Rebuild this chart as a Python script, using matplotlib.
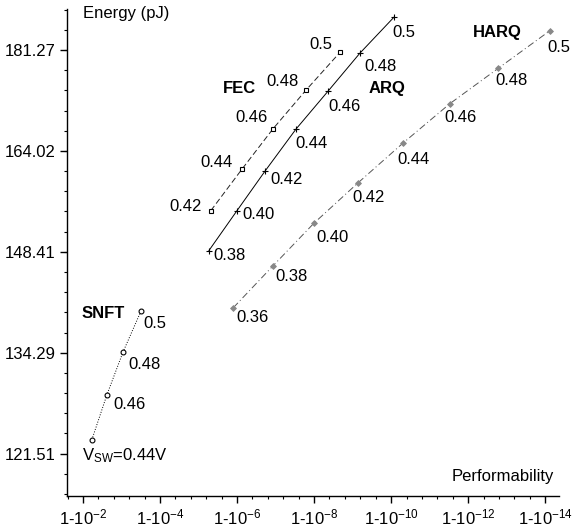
import numpy as np
import matplotlib
matplotlib.use("Agg")
import matplotlib.pyplot as plt

plt.rcParams["font.family"] = ["Liberation Sans", "DejaVu Sans"]
plt.rcParams["mathtext.default"] = "regular"
plt.rcParams["font.size"] = 12

# x = number of nines: performability = 1 - 10^-x ; y = energy in pJ
snft_v = ["V$_{SW}$=0.44V", "0.46", "0.48", "0.5"]
snft_x = [2.23, 2.62, 3.04, 3.51]
snft_e = [123.2, 128.8, 134.4, 140.0]

arq_v = ["0.38", "0.40", "0.42", "0.44", "0.46", "0.48", "0.5"]
arq_x = [5.27, 6.00, 6.73, 7.53, 8.36, 9.19, 10.08]
arq_e = [148.6, 154.6, 160.8, 167.6, 174.0, 180.7, 187.3]

fec_v = ["0.42", "0.44", "0.46", "0.48", "0.5"]
fec_x = [5.32, 6.13, 6.94, 7.79, 8.68]
fec_e = [154.6, 161.1, 167.7, 174.2, 180.9]

harq_v = ["0.36", "0.38", "0.40", "0.42", "0.44", "0.46", "0.48", "0.5"]
harq_x = [5.90, 6.94, 8.00, 9.14, 10.31, 11.53, 12.78, 14.13]
harq_e = [140.4, 146.4, 152.7, 158.9, 165.3, 171.9, 178.0, 184.8]

x_ticks = [2, 4, 6, 8, 10, 12, 14]
y_ticks = [121.51, 134.29, 148.41, 164.02, 181.27]

# label offsets in pixels (dx, dy), dy positive = up
snft_off = [(-10, -16), (6, -10), (5, -13), (2, -13)]
arq_off = [(4, -5), (5, -4), (5, -9), (-1, -14), (0, -15), (4, -13), (-2, -16)]
fec_off = [(-9, 4), (-9, 7), (-6, 11), (-7, 9), (-8, 8)]
harq_off = [(3, -10), (2, -11), (2, -14), (-6, -15), (-6, -16), (-6, -14), (-3, -12), (-3, -17)]

fig = plt.figure(figsize=(5.75, 5.32), dpi=100)
ax = fig.add_axes([67 / 575, 1 - 496 / 532, 492 / 575, 487 / 532])

ax.plot(snft_x, snft_e, ":", color="black", lw=0.7, marker="o", ms=3.5,
        mfc="white", mec="black", mew=0.8)
ax.plot(arq_x, arq_e, "-", color="black", lw=0.7, marker="+", ms=5, mew=0.8)
ax.plot(fec_x, fec_e, "--", color="#222222", lw=0.7, dashes=(6, 3), marker="s", ms=3.5,
        mfc="white", mec="black", mew=0.8)
ax.plot(harq_x, harq_e, "-.", color="#555555", lw=0.7, dashes=(7, 3, 1, 3), marker="D",
        ms=3, mfc="#888888", mec="#888888", mew=0.6)

def put_labels(xs, es, labels, offs, ha):
    for x, e, t, (dx, dy) in zip(xs, es, labels, offs):
        ax.annotate(t, (x, e), xytext=(dx, dy), textcoords="offset pixels",
                    ha=ha, va="center", fontsize=12)

put_labels(snft_x, snft_e, snft_v, snft_off, "left")
put_labels(arq_x, arq_e, arq_v, arq_off, "left")
put_labels(fec_x, fec_e, fec_v, fec_off, "right")
put_labels(harq_x, harq_e, harq_v, harq_off, "left")

ax.text(0.030, 0.374, "SNFT", transform=ax.transAxes, fontweight="bold", va="center")
ax.text(0.317, 0.836, "FEC", transform=ax.transAxes, fontweight="bold", va="center")
ax.text(0.612, 0.836, "ARQ", transform=ax.transAxes, fontweight="bold", va="center")
ax.text(0.825, 0.951, "HARQ", transform=ax.transAxes, fontweight="bold", va="center")
ax.text(0.0325, 0.990, "Energy (pJ)", transform=ax.transAxes, va="center")
ax.text(0.990, 0.041, "Performability", transform=ax.transAxes, va="center", ha="right")

ax.set_yscale("log", base=np.e)
ax.set_ylim(np.exp(4.758), np.exp(5.2406))
ax.set_xlim(1.584, 14.36)

ax.set_xticks(x_ticks, [f"1-10$^{{-{d}}}$" for d in x_ticks])
ax.set_xticks(np.arange(1.6, 14.4, 0.4), minor=True)
ax.set_yticks(y_ticks, [f"{v:.2f}" for v in y_ticks])
ax.set_yticks(np.exp(np.arange(4.76, 5.25, 0.02)), minor=True)
ax.yaxis.set_minor_formatter(matplotlib.ticker.NullFormatter())

for s in ("top", "right"):
    ax.spines[s].set_visible(False)
for s in ("left", "bottom"):
    ax.spines[s].set_linewidth(1.0)
ax.tick_params(which="major", length=5, width=1, labelsize=12, pad=3)
ax.tick_params(which="minor", length=2.5, width=0.8)

fig.savefig("out.png", dpi=100)
